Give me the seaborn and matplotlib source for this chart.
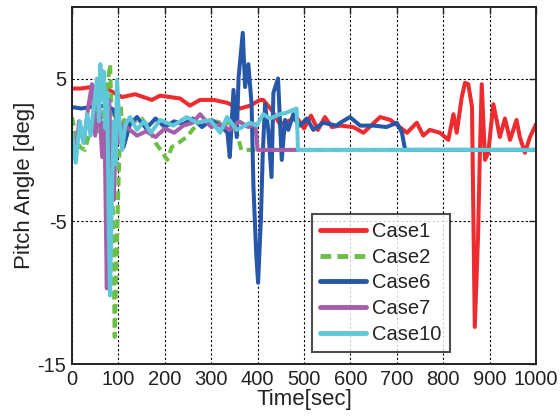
import matplotlib
matplotlib.use("Agg")
import matplotlib.pyplot as plt
import seaborn as sns
import pandas as pd

# Pitch angle traces (time in sec, angle in deg)
x_case1 = [0, 20, 40, 60, 71, 90, 108, 136, 172, 190, 233, 254, 276, 305, 334,
           362, 384, 405, 412, 430, 448, 465, 484, 500, 515, 530, 545, 560, 578, 606,
           628, 664, 686, 722, 743, 757, 771, 793, 811, 822, 829, 840, 847, 854, 862,
           868, 875, 879, 883, 890, 897, 908, 915, 922, 933, 944, 958, 965, 976, 987, 1000]
y_case1 = [4.3, 4.3, 4.4, 4.4, 4.4, 4.0, 3.7, 3.9, 3.5, 3.8, 3.6, 3.1, 3.5, 3.5, 3.3,
           2.9, 3.1, 3.5, 3.5, 2.8, 1.8, 2.0, 2.3, 1.5, 2.4, 1.4, 2.3, 1.6, 1.7, 1.6,
           1.2, 2.3, 2.1, 1.2, 1.9, 1.0, 1.4, 1.2, 0.7, 2.5, 1.2, 3.7, 4.7, 4.6, 3.0,
           -12.4, -6.1, -0.2, 4.6, -0.7, -0.2, 3.2, 2.1, 0.9, 2.2, 0.7, 2.1, 0.9, -0.2, 0.9, 1.8]

x_case2 = [0, 8, 17, 28, 40, 50, 60, 70, 76, 82, 86, 90, 92, 95, 98, 101, 105, 108, 112, 120,
           135, 150, 165, 180, 195, 205, 215, 230, 247, 262, 276, 290, 310, 330, 345, 355,
           365, 375, 385, 1000]
y_case2 = [2.3, 1.0, 0.2, 0.0, 1.5, 2.5, 1.0, 3.0, 4.5, 6.0, 2.0, -8.0, -13.1, -9.0, -4.9,
           -1.4, 3.2, 1.3, 2.1, 1.8, 2.0, 2.2, 1.6, 0.5, -0.2, -0.7, 0.2, 0.5, 0.9, 1.5,
           1.9, 1.8, 2.0, 1.8, 2.0, 1.2, 0.0, 0.0, 0.0, 0.0]

x_case6 = [0, 20, 40, 60, 80, 90, 100, 111, 125, 140, 160, 180, 200, 220, 240, 260, 280,
           300, 320, 335, 340, 348, 355, 359, 368, 373, 380, 387, 391, 397, 401, 407, 411,
           416, 423, 430, 434, 444, 452, 459, 466, 477, 481, 491, 506, 520, 541, 570, 578,
           599, 621, 650, 678, 700, 711, 718, 1000]
y_case6 = [3.0, 2.9, 3.0, 3.1, 3.0, 2.8, 1.5, 0.2, 1.8, 2.3, 1.5, 2.2, 1.6, 2.0, 1.8, 2.2,
           1.6, 2.1, 1.7, 1.2, -0.5, 4.2, 0.9, 5.1, 8.2, 4.4, 6.0, 3.2, -2.6, -7.3, -9.3,
           -4.9, -0.3, 3.2, 1.4, -1.9, 4.0, 5.0, -0.7, 2.1, 1.4, 2.5, 2.1, 1.7, 2.2, 1.4,
           1.9, 1.7, 1.9, 2.3, 1.7, 1.7, 1.6, 1.9, 1.2, 0.0, 0.0]

x_case7 = [0, 8, 15, 25, 35, 43, 50, 58, 65, 70, 73, 75, 77, 80, 85, 90, 95, 100, 110, 125,
           140, 160, 180, 200, 220, 240, 260, 276, 300, 320, 340, 360, 380, 395, 400, 486]
y_case7 = [1.2, -0.7, 2.0, 0.5, 3.0, 4.6, 1.0, 3.5, -0.5, 2.0, -5.0, -9.7, -2.0, 3.5, -1.5,
           -3.5, 2.0, 0.5, 1.8, 1.4, 1.0, 1.3, 0.9, 1.5, 1.2, 1.7, 1.9, 2.5, 1.6, 1.8, 1.4,
           2.0, 1.6, 1.8, 0.0, 0.0]

x_case10 = [0, 8, 17, 25, 33, 40, 47, 54, 58, 61, 64, 68, 72, 76, 79, 82, 86, 90, 94, 97,
            101, 108, 115, 125, 140, 155, 170, 190, 218, 247, 269, 298, 319, 334, 355, 384,
            398, 412, 427, 448, 462, 484, 487, 1000]
y_case10 = [1.1, -0.9, 2.0, 0.5, 2.5, 1.0, 3.0, 5.0, 2.0, 6.0, 3.5, 5.5, 1.5, 4.0, -5.0,
            -10.2, -3.0, 2.0, -1.0, 4.9, 2.5, 0.0, 1.8, 2.3, 1.4, 2.0, 1.2, 2.1, 1.7, 2.3,
            1.9, 2.1, 1.2, 2.3, 1.4, 1.9, 1.7, 2.5, 2.2, 2.5, 2.6, 2.9, 0.0, 0.0]

x_ticks = [0, 100, 200, 300, 400, 500, 600, 700, 800, 900, 1000]
y_ticks = [-15, -5, 5]

series = [
    ("Case1", x_case1, y_case1, "#EE2B2F", "-"),
    ("Case2", x_case2, y_case2, "#6CBF45", (0, (2.2, 1.3))),
    ("Case6", x_case6, y_case6, "#2757A8", "-"),
    ("Case7", x_case7, y_case7, "#A65DAB", "-"),
    ("Case10", x_case10, y_case10, "#5EC8D8", "-"),
]

sns.set_style("white")
plt.rcParams["font.family"] = ["Liberation Sans", "DejaVu Sans"]

fig = plt.figure(figsize=(5.6, 4.18), dpi=100)
ax = fig.add_axes([0.1286, 0.129, 0.8286, 0.854])

for name, xs, ys, color, ls in series:
    df = pd.DataFrame({"t": xs, "pitch": ys})
    sns.lineplot(data=df, x="t", y="pitch", ax=ax, color=color, linewidth=2.9,
                 linestyle=ls, estimator=None, sort=False, label=name,
                 solid_joinstyle="round", solid_capstyle="round")

ax.set_xlim(0, 1000)
ax.set_ylim(-15, 10)
ax.set_xticks(x_ticks)
ax.set_yticks(y_ticks)
ax.set_xticklabels([str(v) for v in x_ticks], fontsize=14.5)
ax.set_yticklabels([str(v) for v in y_ticks], fontsize=14.5)
ax.tick_params(direction="in", length=5, width=1, top=True, right=True,
               colors="#222222", pad=4)
ax.grid(True, color="black", linestyle=(0, (2, 2)), linewidth=0.8)
ax.set_axisbelow(True)
for sp in ax.spines.values():
    sp.set_color("#222222")
    sp.set_linewidth(1.4)

ax.set_xlabel("Time[sec]", fontsize=16, labelpad=0, color="#222222")
ax.set_ylabel("Pitch Angle [deg]", fontsize=16, labelpad=2, color="#222222")

leg = ax.legend(loc="upper left", bbox_to_anchor=(0.517, 0.42), fontsize=14.5,
                frameon=True, fancybox=False, handlelength=2.3, handletextpad=0.3,
                borderpad=0.4, labelspacing=0.33, borderaxespad=0)
leg.get_frame().set_edgecolor("#222222")
leg.get_frame().set_linewidth(1.5)
for line in leg.get_lines():
    line.set_linewidth(3.5)
for t in leg.get_texts():
    t.set_color("#222222")

fig.savefig("out.png", dpi=100)
